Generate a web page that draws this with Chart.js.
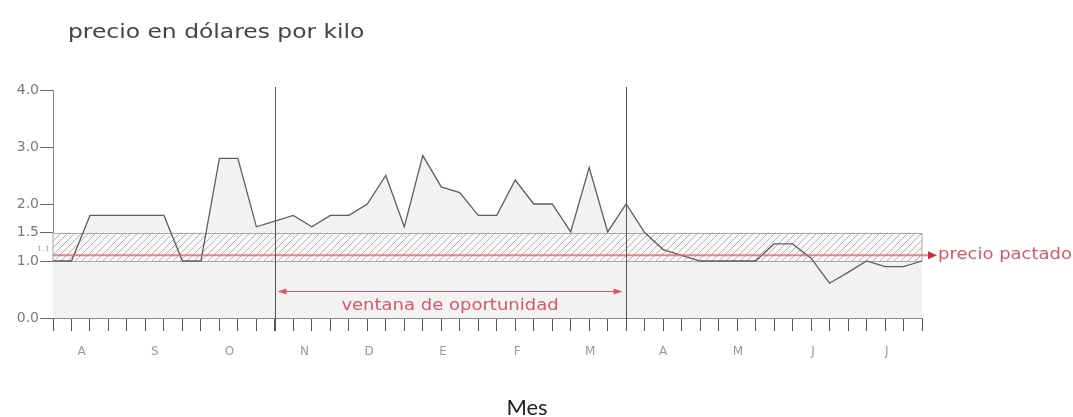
<!DOCTYPE html>
<html>
<head>
<meta charset="utf-8">
<script src="https://cdn.jsdelivr.net/npm/chart.js@4.4.1/dist/chart.umd.min.js"></script>
<style>
  html, body { margin: 0; padding: 0; background: #fff; }
  #wrap { position: relative; width: 1073px; height: 417px; }
</style>
</head>
<body>
<div id="wrap"><canvas id="chart"></canvas></div>
<script>
// price per kilo, one point per week (Aug -> Jul)
const weeks = [0,1,2,3,4,5,6,7,8,9,10,11,12,13,14,15,16,17,18,19,20,21,22,23,
               24,25,26,27,28,29,30,31,32,33,34,35,36,37,38,39,40,41,42,43,44,45,46,47];
const price = [1.0,1.0,1.8,1.8,1.8,1.8,1.8,1.0,1.0,2.8,
               2.8,1.6,1.7,1.8,1.6,1.8,1.8,2.0,2.5,1.6,
               2.85,2.3,2.2,1.8,1.8,2.42,2.0,2.0,1.51,2.64,
               1.51,2.0,1.5,1.2,1.1,1.0,1.0,1.0,1.0,1.3,
               1.3,1.05,0.61,0.8,1.0,0.9,0.9,1.0];
const monthLabels = ['A','S','O','N','D','E','F','M','A','M','J','J'];
const monthPos = [1.55, 5.5, 9.55, 13.6, 17.1, 21.1, 25.1, 29.05, 33.0, 37.05, 41.1, 45.1];
const yTicks = [0, 1.0, 1.5, 2.0, 3.0, 4.0];
const bandLow = 1.0, bandHigh = 1.5;
const pactado = 1.1;
const windowIdx = [12, 31];

const RED = '#d5596a';
const TXT_SX = 1.2;   // the source text is stretched sideways

function sText(ctx, str, x, y, align, font, color, sx) {
  ctx.save();
  ctx.translate(x, y);
  ctx.scale(sx || TXT_SX, 1);
  ctx.font = font;
  ctx.fillStyle = color;
  ctx.textAlign = align;
  ctx.textBaseline = 'middle';
  ctx.fillText(str, 0, 0);
  ctx.restore();
}

function hatchPattern() {
  const c = document.createElement('canvas');
  c.width = 7; c.height = 7;
  const g = c.getContext('2d');
  g.fillStyle = '#f8f8f8';
  g.fillRect(0, 0, 7, 7);
  g.strokeStyle = '#b4b4b4';
  g.lineWidth = 1;
  g.beginPath();
  g.moveTo(0, 7); g.lineTo(7, 0);
  g.moveTo(-1, 1); g.lineTo(1, -1);
  g.moveTo(6, 8); g.lineTo(8, 6);
  g.stroke();
  return g.createPattern(c, 'repeat');
}

// band + grey floor, drawn right after the price fill
const bandPlugin = {
  id: 'band',
  afterDatasetDraw(chart, args) {
    if (args.index !== 1) return;
    const { ctx, chartArea: a, scales: { y } } = chart;
    const yLo = y.getPixelForValue(bandLow), yHi = y.getPixelForValue(bandHigh);
    ctx.save();
    ctx.fillStyle = '#f2f2f2';
    ctx.fillRect(a.left, yLo, a.right - a.left, y.getPixelForValue(0) - yLo);
    ctx.fillStyle = hatchPattern();
    ctx.fillRect(a.left, yHi, a.right - a.left, yLo - yHi);
    ctx.strokeStyle = '#a8a8a8';
    ctx.lineWidth = 1;
    ctx.strokeRect(a.left, Math.round(yHi) + 0.5, a.right - a.left, Math.round(yLo) - Math.round(yHi));
    ctx.restore();
  }
};

const notesPlugin = {
  id: 'notes',
  afterDatasetsDraw(chart) {
    const { ctx, chartArea: a, scales: { x, y } } = chart;
    ctx.save();
    // agreed price line with arrow
    const yp = y.getPixelForValue(pactado);
    ctx.strokeStyle = 'rgba(228,95,108,0.75)';
    ctx.lineWidth = 2;
    ctx.beginPath();
    ctx.moveTo(a.left, yp); ctx.lineTo(a.right + 8, yp);
    ctx.stroke();
    ctx.fillStyle = '#c8303f';
    ctx.beginPath();
    ctx.moveTo(a.right + 15, yp); ctx.lineTo(a.right + 6, yp - 4); ctx.lineTo(a.right + 6, yp + 4);
    ctx.closePath(); ctx.fill();

    // window lines
    const x0 = Math.round(x.getPixelForValue(windowIdx[0])) + 0.5;
    const x1 = Math.round(x.getPixelForValue(windowIdx[1])) + 0.5;
    ctx.strokeStyle = '#555';
    ctx.lineWidth = 1;
    ctx.beginPath();
    ctx.moveTo(x0, a.top - 3); ctx.lineTo(x0, a.bottom + 13);
    ctx.moveTo(x1, a.top - 3); ctx.lineTo(x1, a.bottom + 13);
    ctx.stroke();

    // double arrow
    const ya = Math.round(y.getPixelForValue(0.48)) + 0.5;
    const l = x0 + 2, r = x1 - 4;
    ctx.strokeStyle = RED;
    ctx.fillStyle = RED;
    ctx.lineWidth = 1.2;
    ctx.beginPath();
    ctx.moveTo(l + 6, ya); ctx.lineTo(r - 6, ya);
    ctx.stroke();
    ctx.beginPath();
    ctx.moveTo(l, ya); ctx.lineTo(l + 9, ya - 3); ctx.lineTo(l + 9, ya + 3); ctx.closePath();
    ctx.moveTo(r, ya); ctx.lineTo(r - 9, ya - 3); ctx.lineTo(r - 9, ya + 3); ctx.closePath();
    ctx.fill();
    ctx.restore();

    sText(ctx, 'ventana de oportunidad', (l + r) / 2, ya + 15, 'center', '15px "DejaVu Sans"', RED);
    sText(ctx, 'precio pactado', a.right + 16, yp, 'left', '15px "DejaVu Sans"', RED);
    sText(ctx, pactado.toFixed(1), a.left - 3, yp - 6, 'right', '7px "DejaVu Serif"', '#d88890');
  },
  afterDraw(chart) {
    const ctx = chart.ctx;
    sText(ctx, 'precio en dólares por kilo', 68, 33, 'left', '19.5px "DejaVu Sans"', '#444');
    sText(ctx, 'Mes', 527, 408, 'center', '22px Lato', '#222', 1);
  }
};

new Chart(document.getElementById('chart'), {
  type: 'line',
  data: {
    labels: weeks,
    datasets: [
      { label: 'precio', data: price, borderColor: '#5e5e5e', borderWidth: 1.3,
        pointRadius: 0, fill: false, tension: 0 },
      { label: 'area', data: price, borderWidth: 0, borderColor: 'rgba(0,0,0,0)',
        backgroundColor: '#f2f2f2', pointRadius: 0, fill: 'origin', tension: 0 }
    ]
  },
  options: {
    responsive: true,
    maintainAspectRatio: false,
    animation: false,
    layout: { padding: { top: 90, left: 0, right: 151, bottom: 45 } },
    plugins: { legend: { display: false }, tooltip: { enabled: false } },
    scales: {
      x: {
        type: 'category', position: 'bottom', weight: 0,
        grid: { drawOnChartArea: false, tickLength: 13, color: '#555' },
        border: { display: true, color: '#888' },
        ticks: { autoSkip: false, maxRotation: 0, callback: () => '' },
        afterFit(s) { s.height = 14; }
      },
      x2: {
        type: 'linear', position: 'bottom', weight: 1, min: 0, max: 47,
        grid: { display: false }, border: { display: false },
        afterBuildTicks(s) { s.ticks = monthPos.map(v => ({ value: v })); },
        ticks: {
          autoSkip: false, maxRotation: 0, padding: 5,
          color: '#999', font: { family: 'DejaVu Sans', size: 12 },
          callback: (v, i) => monthLabels[i]
        },
        afterFit(s) { s.height = 40; }
      },
      y: {
        min: 0, max: 4,
        grid: { drawOnChartArea: false, tickLength: 13, color: '#666' },
        border: { display: true, color: '#888' },
        afterBuildTicks(s) { s.ticks = yTicks.map(v => ({ value: v })); },
        ticks: {
          padding: 1, color: '#7a7a7a', font: { family: 'DejaVu Sans', size: 14 },
          callback: v => v.toFixed(1)
        },
        afterFit(s) { s.width = 53; }
      }
    }
  },
  plugins: [bandPlugin, notesPlugin]
});
</script>
</body>
</html>
